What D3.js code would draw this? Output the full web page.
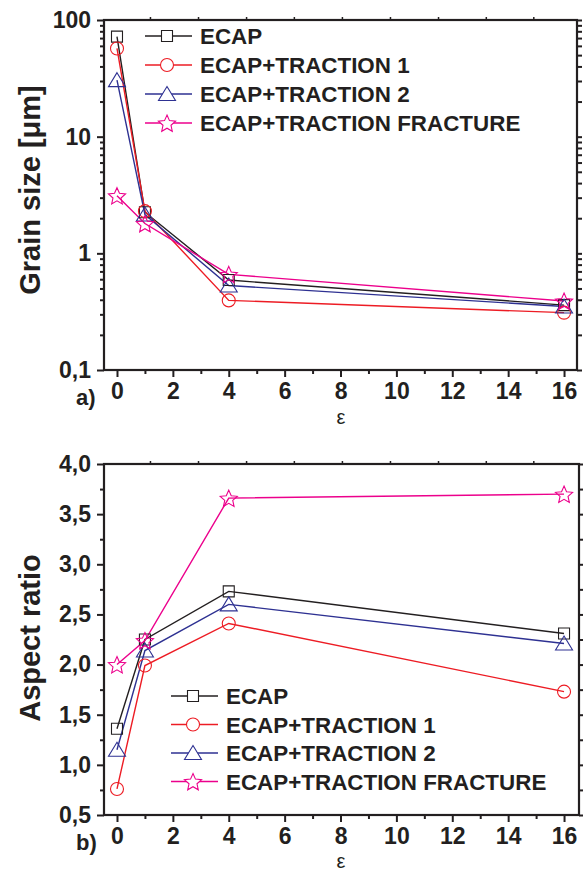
<!DOCTYPE html>
<html>
<head>
<meta charset="utf-8">
<script src="https://cdnjs.cloudflare.com/ajax/libs/d3/7.8.5/d3.min.js"></script>
<style>
  html, body { margin: 0; padding: 0; background: #fff; }
  svg { display: block; }
  text { font-family: "Liberation Sans", Arial, sans-serif; }
</style>
</head>
<body>
<svg id="chart" width="583" height="871"></svg>
<script>
// Strain values (ε) where measurements were taken
const strain = [0, 1, 4, 16];

// Series names
const seriesNames = ["ECAP", "ECAP+TRACTION 1", "ECAP+TRACTION 2", "ECAP+TRACTION FRACTURE"];

// Grain size [µm] per series
const grainECAP      = [72, 2.25, 0.59, 0.36];
const grainTraction1 = [57, 2.3, 0.395, 0.31];
const grainTraction2 = [30.5, 2.15, 0.53, 0.35];
const grainFracture  = [3.12, 1.8, 0.66, 0.39];

// Aspect ratio per series
const aspectECAP      = [1.36, 2.25, 2.73, 2.31];
const aspectTraction1 = [0.76, 1.99, 2.41, 1.73];
const aspectTraction2 = [1.15, 2.14, 2.60, 2.21];
const aspectFracture  = [2.00, 2.24, 3.66, 3.70];

// Axis tick labels
const xTicks = [0, 2, 4, 6, 8, 10, 12, 14, 16];
const xMinorTicks = [1, 3, 5, 7, 9, 11, 13, 15];
const topFrameTicks = [1.18, 2.9, 4.62, 6.33, 8.05, 9.77, 11.49, 13.2, 14.9];
const grainTicks = [0.1, 1, 10, 100];
const grainTickLabels = ["0,1", "1", "10", "100"];
const aspectTicks = [0.5, 1.0, 1.5, 2.0, 2.5, 3.0, 3.5, 4.0];
const aspectTickLabels = ["0,5", "1,0", "1,5", "2,0", "2,5", "3,0", "3,5", "4,0"];

const colors = ["#231f20", "#ed1c24", "#2e3192", "#ec008c"];
const shapes = ["square", "circle", "triangle", "star"];

const svg = d3.select("#chart");

function markerPath(shape) {
  const p = d3.path();
  if (shape === "square") {
    const h = 5.5;
    p.rect(-h, -h, 2 * h, 2 * h);
  } else if (shape === "circle") {
    p.arc(0, 0, 6.5, 0, 2 * Math.PI);
  } else if (shape === "triangle") {
    p.moveTo(0, -7.5); p.lineTo(8.5, 6.5); p.lineTo(-8.5, 6.5); p.closePath();
  } else {
    const R = 9, r = 4.2;
    for (let i = 0; i < 10; i++) {
      const a = -Math.PI / 2 + i * Math.PI / 5;
      const rad = i % 2 === 0 ? R : r;
      const x = rad * Math.cos(a), y = rad * Math.sin(a) + 1;
      if (i === 0) p.moveTo(x, y); else p.lineTo(x, y);
    }
    p.closePath();
  }
  return p.toString();
}

function drawPanel(opts) {
  const { left, right, top, bottom, y, series, yMajor, yMajorLabels, yMinor, yTitle, panelTag } = opts;
  // 0 sits 13 px right of the frame, 27.94 px per strain unit
  const x = d3.scaleLinear().domain([-0.465, (right - 117) / 27.94]).range([left, right]);
  const g = svg.append("g");

  // series lines
  const line = d3.line().x((d, i) => x(strain[i])).y(d => y(d));
  series.forEach((vals, k) => {
    g.append("path").datum(vals)
      .attr("d", line)
      .attr("fill", "none")
      .attr("stroke", colors[k])
      .attr("stroke-width", 1.4);
  });
  // markers
  series.forEach((vals, k) => {
    g.selectAll(null).data(vals).enter().append("path")
      .attr("d", markerPath(shapes[k]))
      .attr("transform", (d, i) => `translate(${x(strain[i])},${y(d)})`)
      .attr("fill", "none")
      .attr("stroke", colors[k])
      .attr("stroke-width", 1.1);
  });

  // frame
  g.append("rect")
    .attr("x", left).attr("y", top)
    .attr("width", right - left).attr("height", bottom - top)
    .attr("fill", "none").attr("stroke", "#231f20").attr("stroke-width", 2.2);

  const axisStyle = sel => {
    sel.select(".domain").remove();
    sel.selectAll("line").attr("stroke", "#231f20").attr("stroke-width", 2);
  };

  // bottom x axis
  const xa = g.append("g").attr("transform", `translate(0,${bottom})`)
    .call(d3.axisBottom(x).tickValues(xTicks).tickSize(7).tickPadding(6).tickFormat(d3.format("d")));
  axisStyle(xa);
  xa.selectAll("text").attr("font-size", 23).attr("font-weight", "bold").attr("fill", "#231f20");
  const xm = g.append("g").attr("transform", `translate(0,${bottom})`)
    .call(d3.axisBottom(x).tickValues(xMinorTicks).tickSize(4).tickFormat(""));
  axisStyle(xm);
  // top frame ticks
  const xt = g.append("g").attr("transform", `translate(0,${top})`)
    .call(d3.axisTop(x).tickValues(topFrameTicks).tickSize(3).tickFormat(""));
  axisStyle(xt);
  xt.selectAll("line").attr("stroke-width", 1.5);

  // left y axis
  const ya = g.append("g").attr("transform", `translate(${left},0)`)
    .call(d3.axisLeft(y).tickValues(yMajor).tickSize(7).tickPadding(6)
      .tickFormat((d, i) => yMajorLabels[i]));
  axisStyle(ya);
  ya.selectAll("text").attr("font-size", 23).attr("font-weight", "bold").attr("fill", "#231f20");
  const ym = g.append("g").attr("transform", `translate(${left},0)`)
    .call(d3.axisLeft(y).tickValues(yMinor).tickSize(4).tickFormat(""));
  axisStyle(ym);
  // right y axis ticks
  const yr = g.append("g").attr("transform", `translate(${right},0)`)
    .call(d3.axisRight(y).tickValues(yMinor.concat(yMajor)).tickSize(5).tickFormat(""));
  axisStyle(yr);

  // axis titles
  g.append("text")
    .attr("transform", `translate(40,${opts.yTitleCenter}) rotate(-90)`)
    .attr("text-anchor", "middle")
    .attr("font-size", 29).attr("font-weight", "bold").attr("fill", "#231f20")
    .text(yTitle);
  g.append("text")
    .attr("x", 341).attr("y", opts.epsY)
    .attr("text-anchor", "middle")
    .attr("font-size", 20).attr("fill", "#231f20")
    .attr("font-family", "'DejaVu Serif', serif")
    .text("ε");
  g.append("text")
    .attr("x", 76).attr("y", opts.tagY)
    .attr("font-size", 22).attr("font-weight", "bold").attr("fill", "#231f20")
    .text(panelTag);

  // legend
  const lg = g.append("g");
  seriesNames.forEach((name, k) => {
    const ly = opts.legendY + k * opts.legendStep;
    lg.append("line")
      .attr("x1", opts.legendX).attr("x2", opts.legendX + 47)
      .attr("y1", ly).attr("y2", ly)
      .attr("stroke", colors[k]).attr("stroke-width", 1.4);
    lg.append("path")
      .attr("d", markerPath(shapes[k]))
      .attr("transform", `translate(${opts.legendX + 22},${ly})`)
      .attr("fill", "#fff").attr("stroke", colors[k]).attr("stroke-width", 1.1);
    lg.append("text")
      .attr("x", opts.legendX + 55).attr("y", ly + 8)
      .attr("font-size", 22.4).attr("font-weight", "bold").attr("fill", "#231f20")
      .text(name);
  });
}

// Panel a) grain size, log scale
const yGrain = d3.scaleLog().domain([0.1, 100]).range([370, 20]);
const grainMinor = [];
[0.1, 1, 10].forEach(dec => { for (let m = 2; m <= 9; m++) grainMinor.push(dec * m); });
drawPanel({
  left: 104, right: 577, top: 20, bottom: 370,
  y: yGrain,
  series: [grainECAP, grainTraction1, grainTraction2, grainFracture],
  yMajor: grainTicks, yMajorLabels: grainTickLabels, yMinor: grainMinor,
  yTitle: "Grain size [μm]", yTitleCenter: 190,
  epsY: 424, tagY: 405, panelTag: "a)",
  legendX: 145, legendY: 36, legendStep: 29
});

// Panel b) aspect ratio, linear scale
const yAspect = d3.scaleLinear().domain([0.5, 4.0]).range([815, 464]);
const aspectMinor = d3.range(0.75, 4.0, 0.5);
drawPanel({
  left: 104, right: 579, top: 464, bottom: 815,
  y: yAspect,
  series: [aspectECAP, aspectTraction1, aspectTraction2, aspectFracture],
  yMajor: aspectTicks, yMajorLabels: aspectTickLabels, yMinor: aspectMinor,
  yTitle: "Aspect ratio", yTitleCenter: 638,
  epsY: 868, tagY: 850, panelTag: "b)",
  legendX: 171, legendY: 696, legendStep: 28.5
});
</script>
</body>
</html>
